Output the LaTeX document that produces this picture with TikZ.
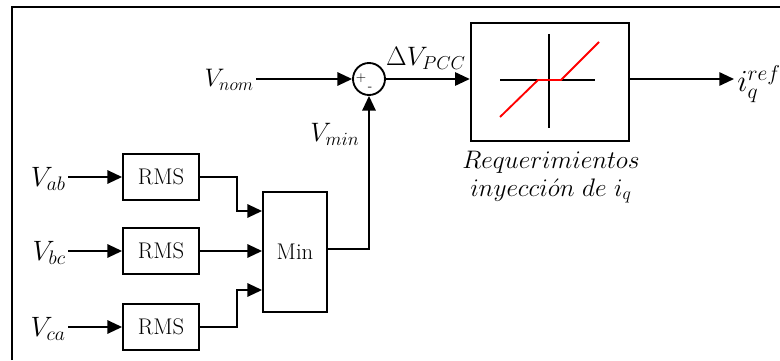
\documentclass[tikz,border=0pt]{standalone}
\usepackage{fix-cm}
\usetikzlibrary{arrows.meta,positioning,calc}
\begin{document}
\begin{tikzpicture}[x=0.75pt,y=-0.75pt,
  line width=1.4pt,
  sig/.style={-{Triangle[length=11pt,width=10pt]}},
  blk/.style={draw,line width=1.4pt,inner sep=0pt},
  lbl/.style={inner sep=1pt},
  rms/.style={blk,minimum width=57pt,minimum height=34pt,font=\fontsize{17}{19}\selectfont}]
\useasboundingbox (0,0) rectangle (780,360);
% frame
\draw[line width=1.6pt] (12,360) -- (12,7) -- (780,7);
% blocks
\node[rms] (rms1) at (161,177) {RMS};
\node[rms] (rms2) at (161,251) {RMS};
\node[rms] (rms3) at (161,327) {RMS};
\node[blk,minimum width=48pt,minimum height=90pt,font=\fontsize{17}{19}\selectfont] (min) at (295,252) {Min};
\node[draw,circle,line width=1.4pt,minimum size=24pt,inner sep=0pt] (sum) at (369,79) {};
\node[font=\fontsize{10}{10}\selectfont,inner sep=0pt] (plus) at (361,78) {+};
\node[font=\fontsize{10}{10}\selectfont,inner sep=0pt] (minus) at (370,89) {-};
\node[blk,minimum width=119pt,minimum height=89pt] (sat) at (550,82) {};
% labels
\node[lbl,anchor=east,font=\fontsize{21}{24}\selectfont] (vab) at (68,179) {$V_{ab}$};
\node[lbl,anchor=east,font=\fontsize{21}{24}\selectfont] (vbc) at (68,253) {$V_{bc}$};
\node[lbl,anchor=east,font=\fontsize{21}{24}\selectfont] (vca) at (68,329) {$V_{ca}$};
\node[lbl,anchor=east,font=\fontsize{19}{22}\selectfont] (vnom) at (256,80) {$V_{nom}$};
\node[lbl,font=\fontsize{20}{22}\selectfont] (vmin) at (335,134) {$V_{min}$};
\node[lbl,font=\fontsize{20}{22}\selectfont] (dv) at (426,58) {$\Delta V_{PCC}$};
\node[lbl,anchor=west,font=\fontsize{23}{26}\selectfont] (iq) at (735,84) {$i_q^{ref}$};
\node[lbl,align=center,font=\fontsize{19}{21}\selectfont] (cap) at (551,177) {$Requerimientos$\\$inyecci\acute{o}n\ de\ i_q$};
% connections
\draw[sig] (vab.east |- rms1.west) -- (rms1.west);
\draw[sig] (vbc.east |- rms2.west) -- (rms2.west);
\draw[sig] (vca.east |- rms3.west) -- (rms3.west);
\coordinate (m1) at (min.west |- 0,211);
\coordinate (m3) at (min.west |- 0,290);
\draw[sig] (rms1.east) -| (237,211) -- (m1);
\draw[sig] (rms2.east) -- (rms2.east -| min.west);
\draw[sig] (rms3.east) -| (237,290) -- (m3);
\draw[sig] (min.east |- 0,249) -| (sum.south);
\draw[sig] (vnom.east |- sum.west) -- (sum.west);
\draw[sig] (sum.east) -- (sat.west |- sum.east);
\coordinate (outend) at (734,79);
\draw[sig] (sat.east |- sum.east) -- (outend);
% characteristic
\draw[line width=1.4pt] (500,80) -- (595,80);
\draw[line width=1.4pt] (549,34) -- (549,128);
\draw[red,line width=1.4pt] (500,117) -- (538,80) -- (561,80) -- (599,42);
\end{tikzpicture}
\end{document}
